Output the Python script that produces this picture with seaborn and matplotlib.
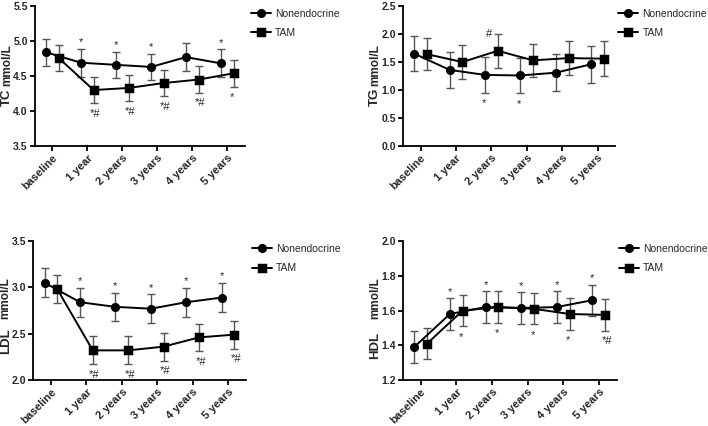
import numpy as np
import pandas as pd
import seaborn as sns
import matplotlib
matplotlib.use("Agg")
import matplotlib.pyplot as plt

# time points
times = ["baseline", "1 year", "2 years", "3 years", "4 years", "5 years"]
groups = ["Nonendocrine", "TAM"]

# TC (mmol/L)
tc_non = [4.84, 4.69, 4.66, 4.63, 4.77, 4.68]
tc_non_sd = [0.19, 0.20, 0.19, 0.19, 0.20, 0.20]
tc_tam = [4.76, 4.30, 4.33, 4.40, 4.45, 4.54]
tc_tam_sd = [0.19, 0.19, 0.19, 0.19, 0.19, 0.19]

# TG (mmol/L)
tg_non = [1.65, 1.36, 1.27, 1.26, 1.31, 1.46]
tg_non_sd = [0.31, 0.32, 0.32, 0.32, 0.33, 0.33]
tg_tam = [1.64, 1.50, 1.70, 1.53, 1.57, 1.56]
tg_tam_sd = [0.29, 0.30, 0.30, 0.30, 0.30, 0.31]

# LDL (mmol/L)
ldl_non = [3.05, 2.84, 2.79, 2.77, 2.84, 2.89]
ldl_non_sd = [0.155, 0.155, 0.155, 0.155, 0.155, 0.16]
ldl_tam = [2.98, 2.32, 2.32, 2.36, 2.46, 2.49]
ldl_tam_sd = [0.15, 0.15, 0.15, 0.15, 0.15, 0.15]

# HDL (mmol/L)
hdl_non = [1.39, 1.58, 1.62, 1.615, 1.62, 1.66]
hdl_non_sd = [0.09, 0.09, 0.09, 0.09, 0.09, 0.09]
hdl_tam = [1.41, 1.60, 1.62, 1.61, 1.58, 1.575]
hdl_tam_sd = [0.09, 0.09, 0.09, 0.09, 0.09, 0.09]

# significance marks: (time index, group, text, side)
tc_marks = [(1, 0, "*", "up"), (2, 0, "*", "up"), (3, 0, "*", "up"), (5, 0, "*", "up"),
            (1, 1, "*#", "down"), (2, 1, "*#", "down"), (3, 1, "*#", "down"),
            (4, 1, "*#", "down"), (5, 1, "*", "down")]
tg_marks = [(2, 1, "#", "left"), (2, 0, "*", "down"), (3, 0, "*", "down")]
ldl_marks = [(i, 0, "*", "up") for i in range(1, 6)] + [(i, 1, "*#", "down") for i in range(1, 6)]
hdl_marks = [(i, 0, "*", "up") for i in range(1, 6)] + [(i, 1, "*", "down") for i in range(1, 5)] + [(5, 1, "*#", "down")]

sns.set_style("ticks")
plt.rcParams['font.family'] = ['Liberation Sans', 'DejaVu Sans']

fig = plt.figure(figsize=(7.08, 4.26), dpi=100)
ax1 = fig.add_axes([0.049, 0.657, 0.297, 0.329])
ax2 = fig.add_axes([0.569, 0.657, 0.300, 0.329])
ax3 = fig.add_axes([0.047, 0.108, 0.300, 0.326])
ax4 = fig.add_axes([0.569, 0.108, 0.302, 0.326])

dodge = 0.36
offs = [-dodge / 2, dodge / 2]


def panel(ax, name, non, non_sd, tam, tam_sd, ylim, yticks, marks, name_y, unit_y, leg_x, lab_x):
    df = pd.DataFrame({"time": times * 2,
                       "value": non + tam,
                       "group": [groups[0]] * 6 + [groups[1]] * 6})
    sns.pointplot(data=df, x="time", y="value", hue="group", ax=ax,
                  order=times, hue_order=groups, dodge=dodge,
                  palette=["black", "black"], markers=["o", "s"],
                  linestyles=["-", "-"], errorbar=None,
                  markersize=5.5, linewidth=1.4)
    sds = [non_sd, tam_sd]
    vals = [non, tam]
    for g in range(2):
        xs = np.arange(len(times)) + offs[g]
        ax.errorbar(xs, vals[g], yerr=sds[g], fmt="none", ecolor="#555555",
                    elinewidth=1.0, capsize=3, capthick=1.0, zorder=1)
    for i, g, txt, side in marks:
        x = i + offs[g]
        if side == "up":
            y = vals[g][i] + sds[g][i]
            ax.annotate(txt, (x, y), xytext=(0, 1), textcoords="offset points",
                        ha="center", va="bottom", fontsize=8)
        elif side == "left":
            y = vals[g][i] + sds[g][i]
            ax.annotate(txt, (x, y), xytext=(-4, 0), textcoords="offset points",
                        ha="right", va="center", fontsize=8)
        else:
            y = vals[g][i] - sds[g][i]
            ax.annotate(txt, (x, y), xytext=(-2.5, -4), textcoords="offset points",
                        ha="left", va="top", fontsize=8)
    ax.set_xlim(-0.5, 5.5)
    ax.set_ylim(*ylim)
    ax.set_yticks(yticks)
    ax.set_yticklabels([f"{t:.1f}" for t in yticks], fontsize=7.5, fontweight="bold")
    ax.set_xticks(range(len(times)))
    ax.set_xticklabels(times, rotation=45, ha="right", rotation_mode="anchor",
                       fontsize=8, fontweight="bold")
    ax.set_xlabel("")
    ax.set_ylabel("")
    ax.text(lab_x, name_y, name, transform=ax.transAxes, rotation=90,
            ha="center", va="center", fontsize=9.5, fontweight="bold")
    ax.text(lab_x, unit_y, "mmol/L", transform=ax.transAxes, rotation=90,
            ha="center", va="center", fontsize=8.5, fontweight="bold")
    ax.tick_params(axis="both", width=1.3, length=3.5, color="black", pad=1.5)
    for s in ["left", "bottom"]:
        ax.spines[s].set_linewidth(1.3)
        ax.spines[s].set_color("black")
    sns.despine(ax=ax)
    ax.legend(loc="upper left", bbox_to_anchor=(leg_x, 0.98), frameon=False,
              fontsize=7.5, handlelength=1.9, handletextpad=0.4,
              labelspacing=0.9, borderaxespad=0, borderpad=0)


panel(ax1, "TC", tc_non, tc_non_sd, tc_tam, tc_tam_sd, (3.5, 5.5),
      [3.5, 4.0, 4.5, 5.0, 5.5], tc_marks, 0.35, 0.58, 1.03, -0.13)
panel(ax2, "TG", tg_non, tg_non_sd, tg_tam, tg_tam_sd, (0.0, 2.5),
      [0.0, 0.5, 1.0, 1.5, 2.0, 2.5], tg_marks, 0.35, 0.58, 1.015, -0.13)
panel(ax3, "LDL", ldl_non, ldl_non_sd, ldl_tam, ldl_tam_sd, (2.0, 3.5),
      [2.0, 2.5, 3.0, 3.5], ldl_marks, 0.28, 0.59, 1.03, -0.13)
panel(ax4, "HDL", hdl_non, hdl_non_sd, hdl_tam, hdl_tam_sd, (1.2, 2.0),
      [1.2, 1.4, 1.6, 1.8, 2.0], hdl_marks, 0.25, 0.59, 1.01, -0.13)

fig.savefig("out.png", dpi=100)
